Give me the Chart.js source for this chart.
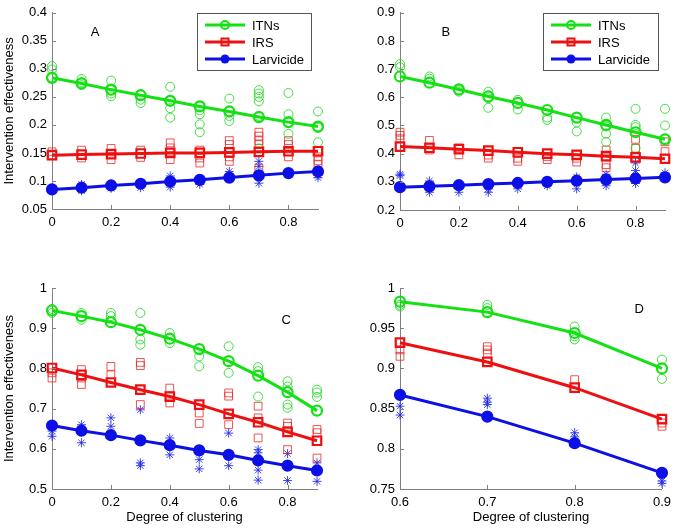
<!DOCTYPE html>
<html>
<head>
<meta charset="utf-8">
<script src="https://cdn.jsdelivr.net/npm/chart.js"></script>
<style>
body { margin: 0; background: #fff; }
#fig { position: relative; width: 677px; height: 528px; background: #fff; }
canvas { position: absolute; }
</style>
</head>
<body>
<div id="fig">
  <canvas id="panelA" width="340" height="260" style="left:0;top:0"></canvas>
  <canvas id="panelB" width="337" height="260" style="left:340px;top:0"></canvas>
  <canvas id="panelC" width="340" height="268" style="left:0;top:260px"></canvas>
  <canvas id="panelD" width="337" height="268" style="left:340px;top:260px"></canvas>
</div>
<script>
// Datos
const seriesNames = ['ITNs', 'IRS', 'Larvicide'];
const clustering = [0, 0.1, 0.2, 0.3, 0.4, 0.5, 0.6, 0.7, 0.8, 0.9];
const clusteringD = [0.6, 0.7, 0.8, 0.9];

const xTicksABC = [0, 0.2, 0.4, 0.6, 0.8];
const xTicksD = [0.6, 0.7, 0.8, 0.9];
const yTicksA = [0.05, 0.1, 0.15, 0.2, 0.25, 0.3, 0.35, 0.4];
const yTicksB = [0.2, 0.3, 0.4, 0.5, 0.6, 0.7, 0.8, 0.9];
const yTicksC = [0.5, 0.6, 0.7, 0.8, 0.9, 1];
const yTicksD = [0.75, 0.8, 0.85, 0.9, 0.95, 1];

// Panel A - medias
const itnA = [0.284, 0.274, 0.263, 0.253, 0.243, 0.233, 0.224, 0.214, 0.205, 0.197];
const irsA = [0.146, 0.147, 0.148, 0.149, 0.150, 0.150, 0.151, 0.152, 0.153, 0.153];
const larA = [0.085, 0.088, 0.092, 0.095, 0.099, 0.102, 0.106, 0.110, 0.114, 0.117];
// Panel A - corridas individuales
const itnRunsA = [[0.305, 0.299, 0.285], [0.282, 0.276, 0.271], [0.279, 0.262, 0.256, 0.251], [0.253, 0.245, 0.239],
  [0.268, 0.243, 0.230, 0.213], [0.233, 0.226, 0.219, 0.201, 0.187], [0.247, 0.224, 0.216, 0.207],
  [0.262, 0.256, 0.250, 0.242, 0.216, 0.158], [0.257, 0.219, 0.205, 0.184], [0.224, 0.197, 0.195, 0.169]];
const irsRunsA = [[0.152, 0.145], [0.155, 0.141], [0.158, 0.138], [0.155, 0.142], [0.168, 0.159, 0.138],
  [0.155, 0.141, 0.132], [0.172, 0.165, 0.143, 0.135], [0.187, 0.180, 0.172, 0.165, 0.123], [0.172, 0.165, 0.143],
  [0.153, 0.143, 0.136, 0.130]];
const larRunsA = [[0.086, 0.083], [0.094, 0.083], [0.094, 0.087], [0.096, 0.088], [0.109, 0.089],
  [0.103, 0.094], [0.117, 0.112], [0.135, 0.126, 0.096], [0.114], [0.110, 0.106]];

// Panel B
const itnB = [0.674, 0.652, 0.628, 0.603, 0.580, 0.555, 0.528, 0.502, 0.476, 0.451];
const irsB = [0.425, 0.421, 0.416, 0.411, 0.405, 0.400, 0.396, 0.391, 0.387, 0.382];
const larB = [0.281, 0.284, 0.288, 0.292, 0.296, 0.300, 0.304, 0.308, 0.312, 0.316];
const itnRunsB = [[0.718, 0.707], [0.674, 0.666], [0.620, 0.625], [0.620, 0.597, 0.563], [0.591, 0.557],
  [0.528, 0.520], [0.511, 0.479], [0.528, 0.497, 0.471, 0.442], [0.559, 0.502, 0.494, 0.419], [0.559, 0.500, 0.453]];
const irsRunsB = [[0.476, 0.465, 0.453], [0.447, 0.413], [0.396, 0.420], [0.384, 0.395], [0.384, 0.373],
  [0.379, 0.390], [0.384, 0.370], [0.413, 0.361, 0.350], [0.451, 0.419], [0.442, 0.407]];
const larRunsB = [[0.327, 0.322], [0.303, 0.263], [0.263], [0.275, 0.263], [0.275], [0.286], [0.317, 0.275],
  [0.327, 0.286], [0.367, 0.340, 0.294], [0.332]];

// Panel C
const itnC = [0.944, 0.930, 0.915, 0.896, 0.874, 0.848, 0.818, 0.782, 0.741, 0.695];
const irsC = [0.801, 0.784, 0.765, 0.747, 0.730, 0.710, 0.687, 0.666, 0.642, 0.620];
const larC = [0.658, 0.645, 0.634, 0.621, 0.609, 0.596, 0.585, 0.571, 0.558, 0.546];
const itnRunsC = [[0.948, 0.938], [0.938, 0.921], [0.938, 0.930], [0.938, 0.872, 0.859], [0.888, 0.863],
  [0.830, 0.805], [0.855, 0.789], [0.803, 0.793, 0.730], [0.768, 0.755, 0.710, 0.702], [0.747, 0.740, 0.729]];
const irsRunsC = [[0.789, 0.776], [0.797, 0.776, 0.760], [0.805, 0.784], [0.815, 0.807, 0.710], [0.751, 0.714],
  [0.689, 0.663], [0.739, 0.731, 0.660], [0.706, 0.677, 0.627], [0.664, 0.656, 0.598], [0.648, 0.640, 0.577]];
const larRunsC = [[0.644, 0.631], [0.660, 0.615], [0.677, 0.656], [0.697, 0.565, 0.558], [0.627, 0.585],
  [0.573, 0.550], [0.639, 0.558], [0.598, 0.590, 0.547, 0.522], [0.588, 0.521], [0.565, 0.519]];

// Panel D
const itnD = [0.983, 0.970, 0.944, 0.900];
const irsD = [0.932, 0.908, 0.876, 0.837];
const larD = [0.867, 0.840, 0.807, 0.770];
const itnRunsD = [[0.979, 0.977], [0.979, 0.975], [0.952, 0.940, 0.936], [0.911, 0.887]];
const irsRunsD = [[0.923, 0.915], [0.927, 0.923, 0.919], [0.886], [0.832, 0.828]];
const larRunsD = [[0.853, 0.842], [0.863, 0.858, 0.855], [0.820, 0.815], [0.760, 0.757]];

const colores = ['rgb(20,225,20)', 'rgb(238,16,16)', 'rgb(12,16,230)'];
const coloresRuns = ['rgba(40,215,40,0.85)', 'rgba(235,40,40,0.8)', 'rgba(30,40,230,0.85)'];
const FUENTE = '"Liberation Sans", Arial, sans-serif';

Chart.defaults.font.family = FUENTE;
Chart.defaults.font.size = 13;
Chart.defaults.color = '#000';

function aPuntos(xv, yv) {
    return xv.map((x, i) => ({ x: x, y: yv[i] }));
}

function corridasAPuntos(xv, runs) {
    const pts = [];
    runs.forEach((r, i) => r.forEach(v => pts.push({ x: xv[i], y: v })));
    return pts;
}

// Marcas de eje hacia adentro (estilo MATLAB)
const marcasInternas = {
    id: 'marcasInternas',
    afterDraw(chart) {
        const ctx = chart.ctx;
        const a = chart.chartArea;
        const sx = chart.scales.x, sy = chart.scales.y;
        ctx.save();
        ctx.strokeStyle = '#808080';
        ctx.lineWidth = 1;
        ctx.beginPath();
        sx.ticks.forEach(t => {
            const px = Math.round(sx.getPixelForValue(t.value)) + 0.5;
            ctx.moveTo(px, a.bottom);
            ctx.lineTo(px, a.bottom - 4);
        });
        sy.ticks.forEach(t => {
            const py = Math.round(sy.getPixelForValue(t.value)) + 0.5;
            ctx.moveTo(a.left, py);
            ctx.lineTo(a.left + 4, py);
        });
        ctx.stroke();
        ctx.restore();
    }
};

// Letra del panel (A, B, C, D) en coordenadas de datos
const letraPanel = {
    id: 'letraPanel',
    afterDraw(chart, args, opts) {
        if (!opts.text) return;
        const ctx = chart.ctx;
        ctx.save();
        ctx.font = '13px ' + FUENTE;
        ctx.fillStyle = '#000';
        ctx.textAlign = 'center';
        ctx.textBaseline = 'middle';
        ctx.fillText(opts.text, chart.scales.x.getPixelForValue(opts.x), chart.scales.y.getPixelForValue(opts.y));
        ctx.restore();
    }
};

// Leyenda con recuadro dentro del area del grafico
const leyendaCaja = {
    id: 'leyendaCaja',
    afterDraw(chart, args, opts) {
        if (!opts.show) return;
        const ctx = chart.ctx;
        const x = opts.x, y = opts.y, w = opts.w, h = opts.h;
        ctx.save();
        ctx.fillStyle = '#fff';
        ctx.fillRect(x, y, w, h);
        ctx.strokeStyle = '#555';
        ctx.lineWidth = 1;
        ctx.strokeRect(x + 0.5, y + 0.5, w, h);
        seriesNames.forEach((name, i) => {
            const cy = y + 12 + i * 17;
            const mx = x + 28;
            ctx.strokeStyle = colores[i];
            ctx.fillStyle = colores[i];
            ctx.lineWidth = 3;
            ctx.beginPath();
            ctx.moveTo(x + 8, cy);
            ctx.lineTo(x + 48, cy);
            ctx.stroke();
            ctx.lineWidth = 2;
            if (i === 0) {
                ctx.beginPath();
                ctx.arc(mx, cy, 4, 0, Math.PI * 2);
                ctx.stroke();
            } else if (i === 1) {
                ctx.strokeRect(mx - 3.5, cy - 3.5, 7, 7);
            } else {
                ctx.beginPath();
                ctx.arc(mx, cy, 4.5, 0, Math.PI * 2);
                ctx.fill();
            }
            ctx.fillStyle = '#000';
            ctx.font = '13px ' + FUENTE;
            ctx.textAlign = 'left';
            ctx.textBaseline = 'middle';
            ctx.fillText(name, x + 55, cy + 1);
        });
        ctx.restore();
    }
};

function crearPanel(id, p) {
    const estilos = ['circle', 'rect', 'circle'];
    const lineas = [p.itn, p.irs, p.lar].map((serie, i) => ({
        label: seriesNames[i],
        data: aPuntos(p.xs, serie),
        showLine: true,
        borderColor: colores[i],
        borderWidth: 3,
        pointStyle: estilos[i],
        pointRadius: i === 1 ? 6 : 5,
        pointBorderWidth: 2.2,
        pointBorderColor: colores[i],
        pointBackgroundColor: i === 2 ? colores[i] : 'rgba(0,0,0,0)',
        clip: false,
        order: 0
    }));
    const corridas = [p.itnRuns, p.irsRuns, p.larRuns].map((runs, i) => ({
        label: seriesNames[i] + ' runs',
        data: corridasAPuntos(p.xs, runs),
        showLine: false,
        pointStyle: ['circle', 'rect', 'star'][i],
        pointRadius: [4.5, 5.5, 4.5][i],
        pointBorderWidth: 1,
        pointBorderColor: coloresRuns[i],
        pointBackgroundColor: 'rgba(0,0,0,0)',
        clip: false,
        order: 1
    }));

    new Chart(document.getElementById(id), {
        type: 'scatter',
        data: { datasets: lineas.concat(corridas) },
        options: {
            responsive: false,
            animation: false,
            events: [],
            layout: { padding: { left: 0, top: p.top, right: p.right, bottom: 0 } },
            scales: {
                x: {
                    type: 'linear',
                    min: p.xMin,
                    max: p.xMax,
                    afterBuildTicks: s => { s.ticks = p.xTicks.map(v => ({ value: v })); },
                    afterFit: s => { s.height = p.xH; },
                    grid: { display: false, drawTicks: false },
                    border: { display: true, color: '#808080', width: 1 },
                    ticks: { padding: 6, maxRotation: 0, callback: v => String(+Number(v).toFixed(2)) },
                    title: { display: p.xTitle, text: 'Degree of clustering', padding: { top: 0, bottom: 3 } }
                },
                y: {
                    type: 'linear',
                    min: p.yMin,
                    max: p.yMax,
                    afterBuildTicks: s => { s.ticks = p.yTicks.map(v => ({ value: v })); },
                    afterFit: s => { s.width = p.yW; },
                    grid: { display: false, drawTicks: false },
                    border: { display: true, color: '#808080', width: 1 },
                    ticks: { padding: 5, callback: v => String(+Number(v).toFixed(2)) },
                    title: { display: p.yTitle, text: 'Intervention effectiveness', padding: { top: 2, bottom: 0 } }
                }
            },
            plugins: {
                legend: { display: false },
                tooltip: { enabled: false },
                letraPanel: p.letra,
                leyendaCaja: p.leyenda
            }
        },
        plugins: [marcasInternas, letraPanel, leyendaCaja]
    });
}

crearPanel('panelA', {
    xs: clustering, itn: itnA, irs: irsA, lar: larA, itnRuns: itnRunsA, irsRuns: irsRunsA, larRuns: larRunsA,
    xMin: 0, xMax: 0.9, xTicks: xTicksABC, yMin: 0.05, yMax: 0.4, yTicks: yTicksA,
    top: 7, right: 22, yW: 52, xH: 51, yTitle: true, xTitle: false,
    letra: { text: 'A', x: 0.146, y: 0.365 },
    leyenda: { show: true, x: 197, y: 13, w: 114, h: 57 }
});

crearPanel('panelB', {
    xs: clustering, itn: itnB, irs: irsB, lar: larB, itnRuns: itnRunsB, irsRuns: irsRunsB, larRuns: larRunsB,
    xMin: 0, xMax: 0.9, xTicks: xTicksABC, yMin: 0.2, yMax: 0.9, yTicks: yTicksB,
    top: 7, right: 12, yW: 60, xH: 50, yTitle: false, xTitle: false,
    letra: { text: 'B', x: 0.156, y: 0.83 },
    leyenda: { show: true, x: 203, y: 13, w: 115, h: 57 }
});

crearPanel('panelC', {
    xs: clustering, itn: itnC, irs: irsC, lar: larC, itnRuns: itnRunsC, irsRuns: irsRunsC, larRuns: larRunsC,
    xMin: 0, xMax: 0.9, xTicks: xTicksABC, yMin: 0.5, yMax: 1, yTicks: yTicksC,
    top: 28, right: 23, yW: 52, xH: 39, yTitle: true, xTitle: true,
    letra: { text: 'C', x: 0.795, y: 0.92 },
    leyenda: { show: false }
});

crearPanel('panelD', {
    xs: clusteringD, itn: itnD, irs: irsD, lar: larD, itnRuns: itnRunsD, irsRuns: irsRunsD, larRuns: larRunsD,
    xMin: 0.6, xMax: 0.9, xTicks: xTicksD, yMin: 0.75, yMax: 1, yTicks: yTicksD,
    top: 28, right: 12, yW: 60, xH: 39, yTitle: false, xTitle: true,
    letra: { text: 'D', x: 0.874, y: 0.973 },
    leyenda: { show: false }
});
</script>
</body>
</html>
